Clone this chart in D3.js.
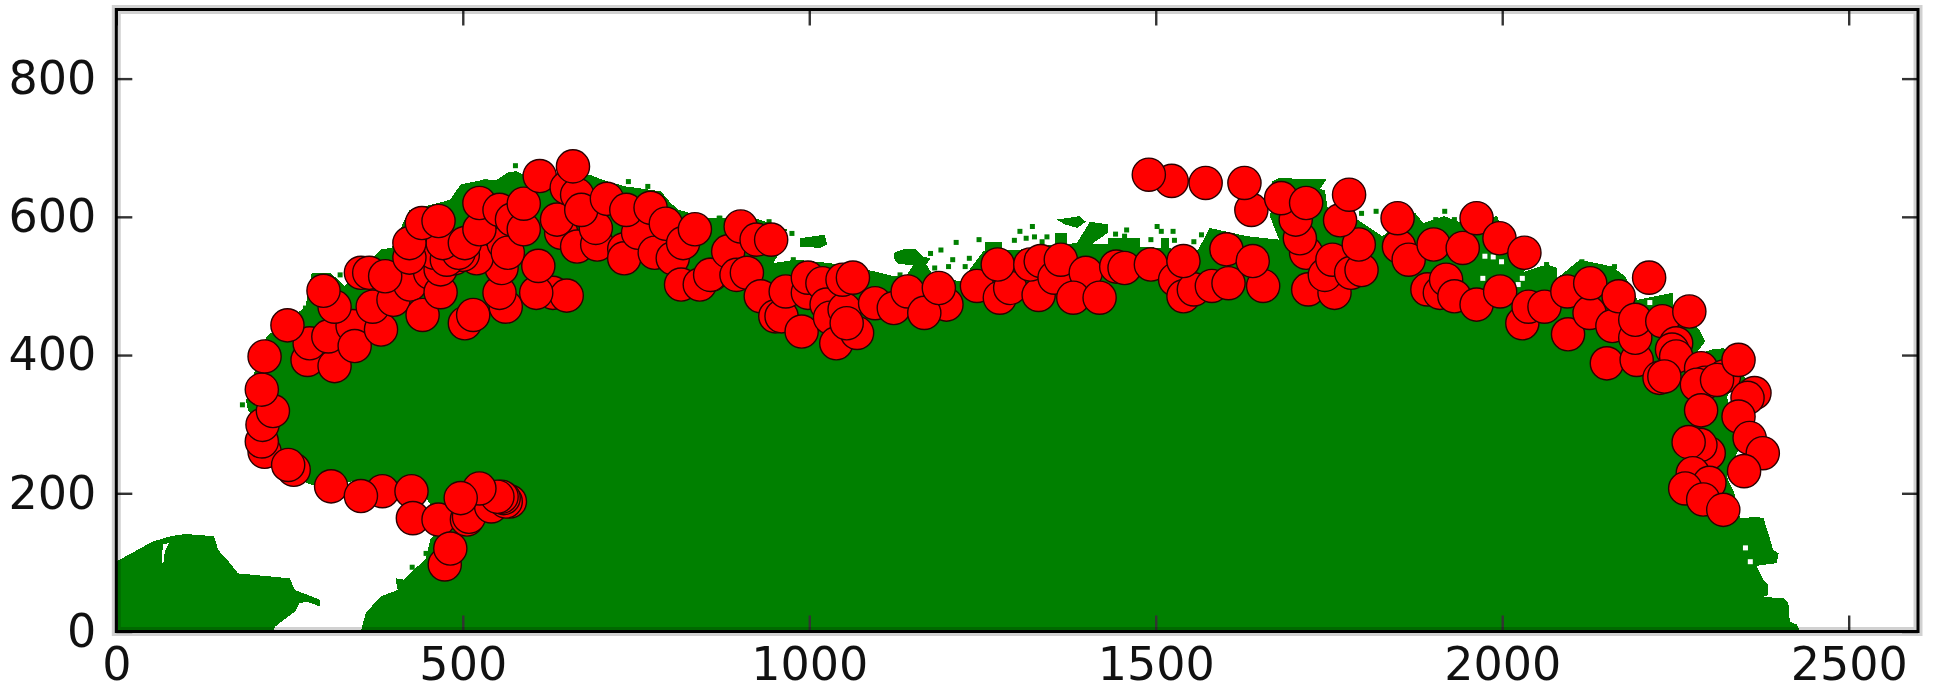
<!DOCTYPE html>
<html><head><meta charset="utf-8">
<script src="https://cdn.jsdelivr.net/npm/d3@7"></script>
<style>html,body{margin:0;background:#fff}svg{display:block}</style></head>
<body><svg id="c" width="1934" height="693"></svg>
<script>
const xTicks=[0,500,1000,1500,2000,2500];
const yTicks=[0,200,400,600,800];
const mainCoast=[[353,0],[360,27],[382,51],[406,60],[403,77],[415,75],[447,106],[453,133],[470,150],[452,186],[430,215],[350,218],[282,212],[250,225],[225,255],[212,290],[200,310],[190,320],[187,335],[195,350],[203,395],[217,427],[264,463],[273,470],[282,519],[309,519],[330,500],[360,530],[382,553],[397,555],[423,610],[465,620],[482,625],[497,647],[533,654],[550,654],[565,664],[577,666],[610,650],[659,660],[683,661],[706,652],[735,644],[786,637],[800,620],[812,610],[854,598],[877,598],[900,606],[945,590],[969,581],[960,575],[955,545],[948,533],[980,538],[1030,533],[1095,521],[1122,514],[1166,514],[1219,507],[1251,550],[1301,552],[1354,560],[1390,562],[1431,560],[1490,556],[1561,552],[1578,584],[1631,572],[1678,567],[1665,600],[1670,640],[1667,651],[1678,656],[1746,654],[1737,640],[1744,639],[1750,601],[1791,596],[1827,572],[1874,606],[1886,591],[1916,601],[1937,593],[1993,601],[2000,575],[2025,560],[2040,530],[2030,520],[2064,531],[2079,526],[2079,511],[2112,538],[2159,528],[2177,514],[2195,480],[2246,490],[2246,470],[2284,437],[2293,420],[2278,400],[2302,408],[2320,410],[2353,364],[2339,359],[2324,340],[2335,300],[2341,263],[2324,224],[2335,200],[2343,165],[2348,164],[2365,166],[2377,164],[2384,142],[2391,118],[2399,113],[2396,99],[2367,95],[2377,75],[2384,68],[2384,53],[2377,50],[2406,48],[2413,41],[2415,14],[2425,10],[2430,0]];
const westIsland=[[0,0],[0,102],[5,104],[25,115],[52,130],[79,138],[100,141],[141,138],[147,118],[164,99],[176,84],[250,77],[258,60],[294,46],[294,36],[276,43],[264,41],[258,29],[229,7],[226,0]];
const islandHole=[[67,126],[76,128],[70,115],[68,99],[66,99]];
const blobs=[
 [[1122,548],[1136,553],[1154,553],[1163,543],[1175,540],[1169,531],[1178,516],[1160,510],[1140,515],[1150,530],[1128,532],[1122,540]],
 [[986,569],[1022,574],[1026,560],[1016,555],[986,557]],
 [[1357,596],[1390,601],[1399,593],[1387,584],[1369,589]],
 [[1405,593],[1431,589],[1431,577],[1407,560],[1385,560]],
 [[1354,577],[1372,577],[1372,558],[1354,558]],
 [[1254,564],[1278,564],[1278,548],[1254,548]],
 [[1431,569],[1478,569],[1478,552],[1431,552]],
 [[1508,569],[1519,569],[1519,552],[1508,552]]
];
const speckles=[[1322,586],[1304,579],[1502,586],[1525,579],[1458,581],[1508,579],[1325,571],[1343,571],[1313,569],[1296,566],[1336,564],[1245,567],[1212,563],[1190,552],[1175,547],[1207,538],[1231,540],[1201,528],[1225,528],[1181,526],[1131,516],[954,528],[966,528],[977,538],[870,598],[942,593],[975,576],[1566,574],[1555,564],[1493,567],[1455,572],[1527,566],[1442,575],[576,674],[739,651],[767,644],[323,516],[273,468],[544,649],[533,651],[871,598],[1797,605],[1818,608],[1917,608],[1904,596],[1931,596],[2064,531],[2115,535],[2162,528],[427,93],[447,113],[182,328]];
const holes=[[1975,543],[1987,542],[1999,535],[1972,511],[2029,511],[2023,502],[2213,476],[2351,121],[2358,101]];
const westMarkers=[[214,260],[210,275],[211,299],[226,319],[210,350],[256,234],[248,241],[310,210],[384,203],[353,196],[426,203],[428,164],[465,162],[474,97],[482,120],[506,162],[509,166],[541,181],[568,188],[562,188],[559,193],[556,195],[550,195],[524,207],[497,193],
 [276,393],[279,417],[315,384],[214,398],[247,443],[306,427],[341,442],[344,413],[382,437],[315,470],[370,470],[400,480],[299,493],[424,502],[453,519],[353,519],[365,519],[388,514],[442,458],[468,491],[503,446],[515,458],[562,470],[553,490],[556,526],[630,490],[650,486],[606,490],[609,529],[468,524],[488,540],[520,540],[500,545],[459,548],[477,538],[494,548],[471,562],[503,562],[423,541],[423,562],[441,591],[465,594],[559,562],[565,548],[524,582],[524,620],[553,610],[571,596],[588,582],[588,619],[611,659],[642,577],[636,596],[665,557],[694,560],[692,584],[650,642],[665,632],[671,610],[659,673],[708,626],[733,553],[733,540],[753,577],[736,610],[777,548],[771,613],[803,540],[793,590],[818,562],[815,502],[842,502],[835,582],[859,516]];
const centralMarkers=[[857,516],[883,550],[895,516],[910,519],[901,586],[924,567],[945,567],[930,485],[951,456],[960,456],[966,492],[989,434],[998,490],[998,512],[1019,504],[1025,473],[1030,454],[1039,417],[1069,432],[1051,466],[1054,446],[1048,509],[1063,512],[1095,475],[1122,468],[1142,492],[1198,473],[1166,461],[1187,497],[1242,500],[1275,483],[1290,497],[1272,531],[1331,487],[1319,531],[1334,536],[1354,512],[1363,538],[1399,519],[1381,483],[1419,483],[1443,528],[1455,526],[1493,531],[1528,509],[1540,485],[1555,495],[1540,536],[1581,500],[1605,504],[1602,553],[1655,500],[1640,536],[1523,652],[1490,661],[1572,649],[1638,610],[1628,649]];
const eastMarkers=[[1720,495],[1758,490],[1717,548],[1744,516],[1755,538],[1782,519],[1797,523],[1793,560],[1708,569],[1702,596],[1681,627],[1717,620],[1766,595],[1779,632],[1851,557],[1865,538],[1849,598],[1892,495],[1910,490],[1919,509],[1931,485],[1963,473],[1901,560],[1943,555],[1997,492],[1963,598],[1996,569],[2032,548],[2029,446],[2038,470],[2061,470],[2095,430],[2094,492],[2126,461],[2127,504],[2151,388],[2159,442],[2168,485],[2194,393],[2192,425],[2192,451],[2212,512],[2231,449],[2270,463],[2251,417],[2245,408],[2251,398],[2227,367],[2234,369],[2287,381],[2293,360],[2281,357],[2320,369],[2310,364],[2341,393],[2364,345],[2354,338],[2287,320],[2341,311],[2298,258],[2286,270],[2269,274],[2357,280],[2376,258],[2349,232],[2275,229],[2299,215],[2264,207],[2290,191],[2319,176]];

const svg=d3.select('#c');
const x=d3.scaleLinear().domain([0,2600]).range([116.3,1918]);
const y=d3.scaleLinear().domain([0,900]).range([631.5,9.5]);
const line=d3.line().x(d=>x(d[0])).y(d=>y(d[1])).curve(d3.curveLinear);

svg.selectAll('path.land').data([mainCoast,westIsland,...blobs]).join('path')
  .attr('class','land').attr('d',d=>line(d)+'Z').attr('fill','#008000').attr('shape-rendering','crispEdges');
svg.append('path').attr('d',line(islandHole)+'Z').attr('fill','#fff').attr('shape-rendering','crispEdges');
const cell=5;
svg.selectAll('rect.sp').data(speckles).join('rect').attr('class','sp')
  .attr('x',d=>x(d[0])-cell/2).attr('y',d=>y(d[1])-cell/2).attr('width',cell).attr('height',cell).attr('fill','#008000');
svg.selectAll('rect.ho').data(holes).join('rect').attr('class','ho')
  .attr('x',d=>x(d[0])-cell/2).attr('y',d=>y(d[1])-cell/2).attr('width',cell).attr('height',cell).attr('fill','#fff');

const marks=svg.append('g').style('filter','blur(0.4px)');
marks.selectAll('circle').data([...westMarkers,...centralMarkers,...eastMarkers]).join('circle')
  .attr('cx',d=>x(d[0])).attr('cy',d=>y(d[1])).attr('r',16.6)
  .attr('fill','#ff0000').attr('stroke','#2a0000').attr('stroke-width',1.4);

const frame=svg.append('g').style('filter','blur(0.7px)');
const axB=d3.axisBottom(x).tickValues(xTicks).tickSize(-16).tickPadding(16).tickFormat(d3.format('d'));
const axL=d3.axisLeft(y).tickValues(yTicks).tickSize(-16).tickPadding(20).tickFormat(d3.format('d'));
const axT=d3.axisTop(x).tickValues(xTicks).tickSize(-16).tickFormat('');
const axR=d3.axisRight(y).tickValues(yTicks).tickSize(-16).tickFormat('');
frame.append('g').attr('transform','translate(0,631.5)').call(axB);
frame.append('g').attr('transform','translate(116.3,0)').call(axL);
frame.append('g').attr('transform','translate(0,9.5)').call(axT);
frame.append('g').attr('transform','translate(1918,0)').call(axR);
frame.selectAll('.domain').remove();
frame.selectAll('.tick line').attr('stroke','#333').attr('stroke-width',2.4);
frame.selectAll('.tick text').attr('fill','#111').style('font-family','"DejaVu Sans"').style('font-size','46px');
frame.append('rect').attr('x',116.3).attr('y',9.5).attr('width',1801.7).attr('height',622)
  .attr('fill','none').attr('stroke','rgba(0,0,0,0.18)').attr('stroke-width',9);
frame.append('rect').attr('x',116.3).attr('y',9.5).attr('width',1801.7).attr('height',622)
  .attr('fill','none').attr('stroke','#000').attr('stroke-width',3);
</script></body></html>
